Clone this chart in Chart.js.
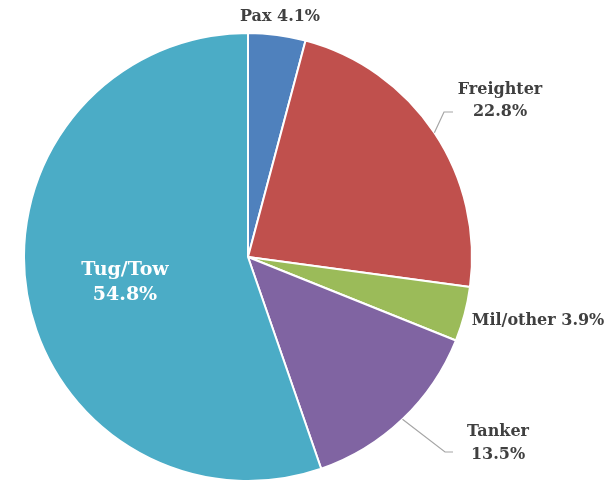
<!DOCTYPE html>
<html><head><meta charset="utf-8">
<script src="https://cdn.jsdelivr.net/npm/chart.js@4"></script>
<style>html,body{margin:0;padding:0;background:#fff}#w{width:608px;height:483px}</style>
</head><body><div id="w"><canvas id="c" width="608" height="483"></canvas></div>
<script>
const categories = ["Pax", "Freighter", "Mil/other", "Tanker", "Tug/Tow"];
const shares = [4.1, 22.8, 3.9, 13.5, 54.8];
const colors = ["#4F81BD", "#C0504D", "#9BBB59", "#8064A2", "#4BACC6"];

// label layout: text centre, line split, font size, leader line bend
const labelLayout = [
  {x: 280, y: 17, twoLine: false, size: 16, gap: 0, color: "#404040"},
  {x: 500, y: 101, twoLine: true, size: 16, gap: 22, color: "#404040", bend: [444, 112], end: [453, 112]},
  {x: 538, y: 321, twoLine: false, size: 16, gap: 0, color: "#404040"},
  {x: 498, y: 443, twoLine: true, size: 16, gap: 23, color: "#404040", bend: [445, 452], end: [453, 452]},
  {x: 125, y: 283, twoLine: true, size: 19, gap: 25, color: "#FFFFFF"}
];

const labelPlugin = {
  id: 'pieLabels',
  afterDatasetsDraw(chart) {
    const ctx = chart.ctx;
    const meta = chart.getDatasetMeta(0);
    ctx.save();
    ctx.textAlign = 'center';
    ctx.textBaseline = 'middle';
    meta.data.forEach((arc, i) => {
      const L = labelLayout[i];
      const txt = chart.data.labels[i];
      const pct = chart.data.datasets[0].data[i].toFixed(1) + '%';
      if (L.bend) {
        const mid = (arc.startAngle + arc.endAngle) / 2;
        const sx = arc.x + Math.cos(mid) * arc.outerRadius;
        const sy = arc.y + Math.sin(mid) * arc.outerRadius;
        ctx.strokeStyle = '#A6A6A6';
        ctx.lineWidth = 1.2;
        ctx.beginPath();
        ctx.moveTo(sx, sy);
        ctx.lineTo(L.bend[0], L.bend[1]);
        ctx.lineTo(L.end[0], L.end[1]);
        ctx.stroke();
      }
      ctx.font = "bold " + L.size + "px 'DejaVu Serif'";
      ctx.fillStyle = L.color;
      if (L.twoLine) {
        ctx.fillText(txt, L.x, L.y - L.gap / 2);
        ctx.fillText(pct, L.x, L.y + L.gap / 2);
      } else {
        ctx.fillText(txt + ' ' + pct, L.x, L.y);
      }
    });
    ctx.restore();
  }
};

new Chart(document.getElementById('c'), {
  type: 'pie',
  data: {
    labels: categories,
    datasets: [{
      data: shares,
      backgroundColor: colors,
      borderColor: '#FFFFFF',
      borderWidth: 2
    }]
  },
  options: {
    responsive: false,
    animation: false,
    layout: {padding: {left: 23, right: 135, top: 32, bottom: 1}},
    plugins: {legend: {display: false}, tooltip: {enabled: false}}
  },
  plugins: [labelPlugin]
});
</script>
</body></html>
